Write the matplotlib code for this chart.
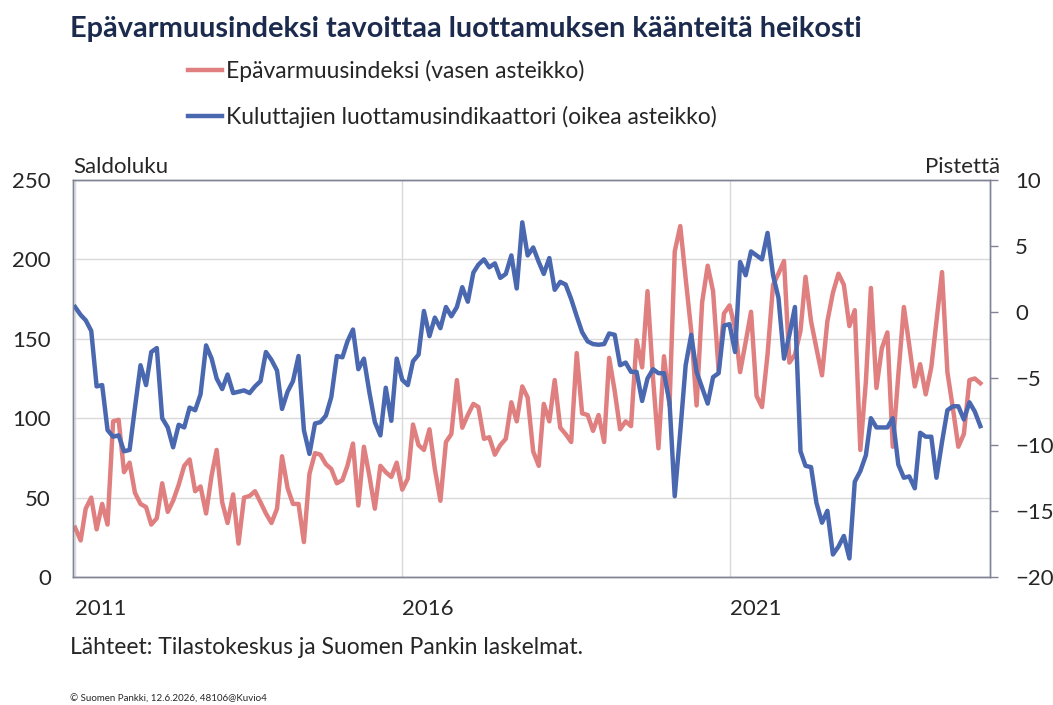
import matplotlib
matplotlib.use("Agg")
import matplotlib.pyplot as plt
import pandas as pd

plt.rcParams['font.family'] = ['Lato', 'DejaVu Sans']

# Monthly data, Jan 2011 onwards
start = '2011-01-01'

# Epävarmuusindeksi (left axis, saldoluku)
uncertainty = [
    31, 23, 43, 50, 30, 46, 33, 98, 99, 66, 72, 53,
    46, 44, 33, 37, 59, 41, 48, 58, 70, 74, 54, 57,
    40, 64, 80, 47, 34, 52, 21, 50, 51, 54, 47, 40,
    34, 43, 76, 56, 46, 46, 22, 65, 78, 77, 71, 68,
    59, 61, 70, 84, 45, 82, 64, 43, 70, 66, 63, 72,
    55, 62, 96, 83, 80, 93, 68, 48, 85, 90, 124, 94,
    102, 109, 107, 87, 88, 77, 83, 87, 110, 98, 120, 113,
    79, 70, 109, 98, 124, 94, 90, 85, 141, 103, 102, 92,
    102, 85, 138, 117, 93, 98, 95, 149, 132, 180, 125, 81,
    139, 108, 205, 221, 188, 155, 108, 173, 196, 180, 130, 166,
    171, 157, 129, 148, 167, 114, 107, 140, 184, 191, 199, 135,
    140, 155, 189, 161, 144, 127, 161, 179, 191, 184, 158, 168,
    80, 123, 182, 119, 144, 154, 82, 127, 170, 146, 120, 134,
    115, 132, 161, 192, 129, 106, 82, 90, 124, 125, 122,
]

# Kuluttajien luottamusindikaattori (right axis, pistettä)
confidence = [
    0.4, -0.2, -0.6, -1.4, -5.6, -5.5, -8.9, -9.4, -9.3, -10.5, -10.4, -7.2,
    -4.0, -5.5, -3.0, -2.7, -8.0, -8.7, -10.2, -8.5, -8.7, -7.2, -7.4, -6.2,
    -2.5, -3.5, -5.0, -5.8, -4.7, -6.1, -6.0, -5.9, -6.1, -5.6, -5.2, -3.0,
    -3.6, -4.4, -7.3, -6.0, -5.2, -3.3, -8.9, -10.7, -8.4, -8.3, -7.8, -6.4,
    -3.3, -3.4, -2.2, -1.3, -4.3, -3.5, -6.0, -8.3, -9.3, -5.7, -8.2, -3.5,
    -5.1, -5.5, -3.7, -3.2, 0.1, -1.8, -0.4, -1.2, 0.4, -0.3, 0.4, 1.9,
    0.8, 3.0, 3.6, 4.0, 3.4, 3.7, 2.6, 2.9, 4.3, 1.8, 6.8, 4.3,
    4.9, 3.8, 2.9, 4.1, 1.7, 2.3, 2.1, 1.0, -0.3, -1.5, -2.2, -2.4,
    -2.45, -2.4, -1.6, -1.7, -4.0, -3.8, -4.5, -4.5, -6.7, -5.0, -4.3, -4.6,
    -4.6, -6.8, -13.9, -9.0, -4.0, -1.7, -4.5, -5.7, -6.9, -4.9, -4.6, -1.0,
    -0.9, -3.0, 3.8, 2.8, 4.6, 4.3, 4.0, 6.0, 2.8, 1.1, -3.5, -1.7,
    0.4, -10.5, -11.6, -11.7, -14.4, -15.9, -15.0, -18.3, -17.7, -16.9, -18.6, -12.8,
    -12.0, -10.8, -8.0, -8.7, -8.7, -8.7, -8.0, -11.5, -12.5, -12.4, -13.3, -9.1,
    -9.4, -9.4, -12.5, -9.8, -7.4, -7.1, -7.1, -8.1, -6.8, -7.5, -8.6,
]

dates = pd.date_range(start, periods=len(uncertainty), freq='MS')

red = '#e07f7f'
blue = '#4a68b0'
navy = '#1c2b4d'
text_col = '#262626'

fig = plt.figure(figsize=(10.53, 7.05), dpi=100)
ax = fig.add_axes([0.0693, 0.1816, 0.8709, 0.5631])
ax2 = ax.twinx()

l1, = ax.plot(dates, uncertainty, color=red, linewidth=3.2, solid_joinstyle='round')
l2, = ax2.plot(dates, confidence, color=blue, linewidth=3.2, solid_joinstyle='round')

ax.set_xlim(pd.Timestamp('2010-12-20'), pd.Timestamp('2024-12-25'))
ax.set_ylim(0, 250)
ax2.set_ylim(-20, 10)

ax.set_yticks([0, 50, 100, 150, 200, 250])
ax2.set_yticks([-20, -15, -10, -5, 0, 5, 10])
ax.set_xticks(pd.to_datetime(['2011-01-01', '2016-01-01', '2021-01-01']))
ax.set_xticklabels(['2011', '2016', '2021'], ha='left')

ax.grid(True, color='#d9d9d9', linewidth=1.0)
ax.set_axisbelow(True)

for a in (ax, ax2):
    for s in a.spines.values():
        s.set_color('#7f8496')
        s.set_linewidth(1.0)

ax.tick_params(axis='y', length=0, pad=16, labelsize=16, labelcolor=text_col)
ax.tick_params(axis='x', length=0, pad=16, labelsize=16, labelcolor=text_col)
ax2.tick_params(axis='y', length=6, width=1, color='#7f8496', pad=12,
                labelsize=16, labelcolor=text_col)

fig.text(73 / 1053, 1 - 167 / 705, 'Saldoluku', fontsize=16, color=text_col,
         va='center', ha='left')
fig.text(1000 / 1053, 1 - 167 / 705, 'Pistettä', fontsize=16, color=text_col,
         va='center', ha='right')

fig.text(70 / 1053, 1 - 29 / 705,
         'Epävarmuusindeksi tavoittaa luottamuksen käänteitä heikosti',
         fontsize=20.8, fontweight='bold', color=navy, va='center', ha='left')

fig.legend([l1, l2],
           ['Epävarmuusindeksi (vasen asteikko)',
            'Kuluttajien luottamusindikaattori (oikea asteikko)'],
           loc='upper left', bbox_to_anchor=(188 / 1053, 1 - 60 / 705),
           frameon=False, fontsize=16.5, handlelength=1.5, handletextpad=0.15,
           labelspacing=1.05, borderpad=0, borderaxespad=0, labelcolor=text_col)

fig.text(70 / 1053, 1 - 648 / 705,
         'Lähteet: Tilastokeskus ja Suomen Pankin laskelmat.',
         fontsize=16.5, color=text_col, va='center', ha='left')
fig.text(70 / 1053, 1 - 699 / 705,
         '© Suomen Pankki, 12.6.2026, 48106@Kuvio4',
         fontsize=7, color=text_col, va='center', ha='left')

fig.savefig('out.png', dpi=100)
